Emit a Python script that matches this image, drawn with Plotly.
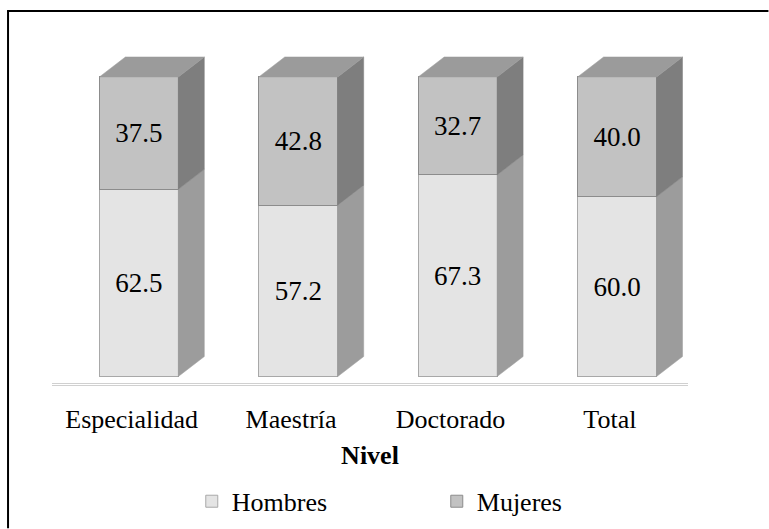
import plotly.graph_objects as go

categories = ["Especialidad", "Maestría", "Doctorado", "Total"]
hombres = [62.5, 57.2, 67.3, 60.0]
mujeres = [37.5, 42.8, 32.7, 40.0]
axis_title = "Nivel"

FONT = "Liberation Serif, Times New Roman, serif"
W, H = 769, 529
ML, MR, MT, MB = 52, 80.5, 53, 141.5
XR = [-0.545, 3.445]
YR = [-3.5, 108]
BW = 0.495
DX, DY = 0.163, 6.67
LABEL_SHIFT = -0.045

front_h, side_h = "#e4e4e4", "#9c9c9c"
front_m, side_m, top_m = "#c2c2c2", "#7e7e7e", "#9b9b9b"

x = list(range(len(categories)))
fig = go.Figure()

def poly(xs, ys, color):
    fig.add_trace(go.Scatter(x=xs + [xs[0]], y=ys + [ys[0]], mode="lines", fill="toself",
                             fillcolor=color, line=dict(color=color, width=0.5),
                             hoverinfo="skip", showlegend=False))

for i, (h, m) in enumerate(zip(hombres, mujeres)):
    xr = i + BW / 2
    xl = i - BW / 2
    poly([xr, xr + DX, xr + DX, xr], [0, DY, h + DY, h], side_h)
    poly([xr, xr + DX, xr + DX, xr], [h, h + DY, h + m + DY, h + m], side_m)
    t = h + m
    poly([xl, xl + DX, xr + DX, xr], [t, t + DY, t + DY, t], top_m)

fig.add_trace(go.Bar(name="Hombres", x=x, y=hombres, width=BW,
                     marker=dict(color=front_h, line=dict(color="#a8a8a8", width=1)),
                     text=[f"{v:.1f}" for v in hombres], textposition="inside",
                     insidetextanchor="middle", textangle=0, constraintext="none",
                     textfont=dict(family=FONT, size=27, color="black")))
fig.add_trace(go.Bar(name="Mujeres", x=x, y=mujeres, width=BW,
                     marker=dict(color=front_m, line=dict(color="#8c8c8c", width=1)),
                     text=[f"{v:.1f}" for v in mujeres], textposition="inside",
                     insidetextanchor="middle", textangle=0, constraintext="none",
                     textfont=dict(family=FONT, size=27, color="black")))

pw = W - ML - MR
ph = H - MT - MB
def px_x(p):
    return (p - ML) / pw
def px_y(p):
    return (H - MB - p) / ph

shapes = [
    dict(type="line", xref="paper", yref="y", x0=0, x1=1, y0=-2.33, y1=-2.33,
         line=dict(color="#d0d0d0", width=1.2)),
    dict(type="line", xref="paper", yref="y", x0=0, x1=1, y0=-3.0, y1=-3.0,
         line=dict(color="#d0d0d0", width=1.2)),
    dict(type="line", xref="paper", yref="paper", x0=px_x(8), x1=px_x(8),
         y0=px_y(H), y1=px_y(11), line=dict(color="black", width=2), layer="above"),
    dict(type="line", xref="paper", yref="paper", x0=px_x(7), x1=px_x(W),
         y0=px_y(11), y1=px_y(11), line=dict(color="black", width=2), layer="above"),
]

fig.update_layout(
    width=W, height=H, barmode="stack",
    margin=dict(l=ML, r=MR, t=MT, b=MB, autoexpand=False),
    paper_bgcolor="white", plot_bgcolor="white",
    font=dict(family=FONT, size=26, color="black"),
    shapes=shapes,
    xaxis=dict(range=XR, tickmode="array", tickvals=[v + LABEL_SHIFT for v in x],
               ticktext=categories, automargin=False,
               showgrid=False, zeroline=False, showline=False, ticks="",
               tickfont=dict(family=FONT, size=26, color="black"),
               ticklabelstandoff=14,
               title=dict(text="<b>" + axis_title + "</b>", standoff=12,
                          font=dict(family=FONT, size=26, color="black"))),
    yaxis=dict(range=YR, visible=False, showgrid=False, zeroline=False, automargin=False),
    legend=dict(orientation="h", x=px_x(52 + 0.605 * pw), xanchor="center",
                y=px_y(502), yanchor="middle",
                font=dict(family=FONT, size=26, color="black"),
                entrywidth=200, entrywidthmode="pixels", traceorder="normal"),
    showlegend=True,
)

fig.write_html("out.html", config={"displayModeBar": False},
               post_script="document.body.style.margin='0px';")
